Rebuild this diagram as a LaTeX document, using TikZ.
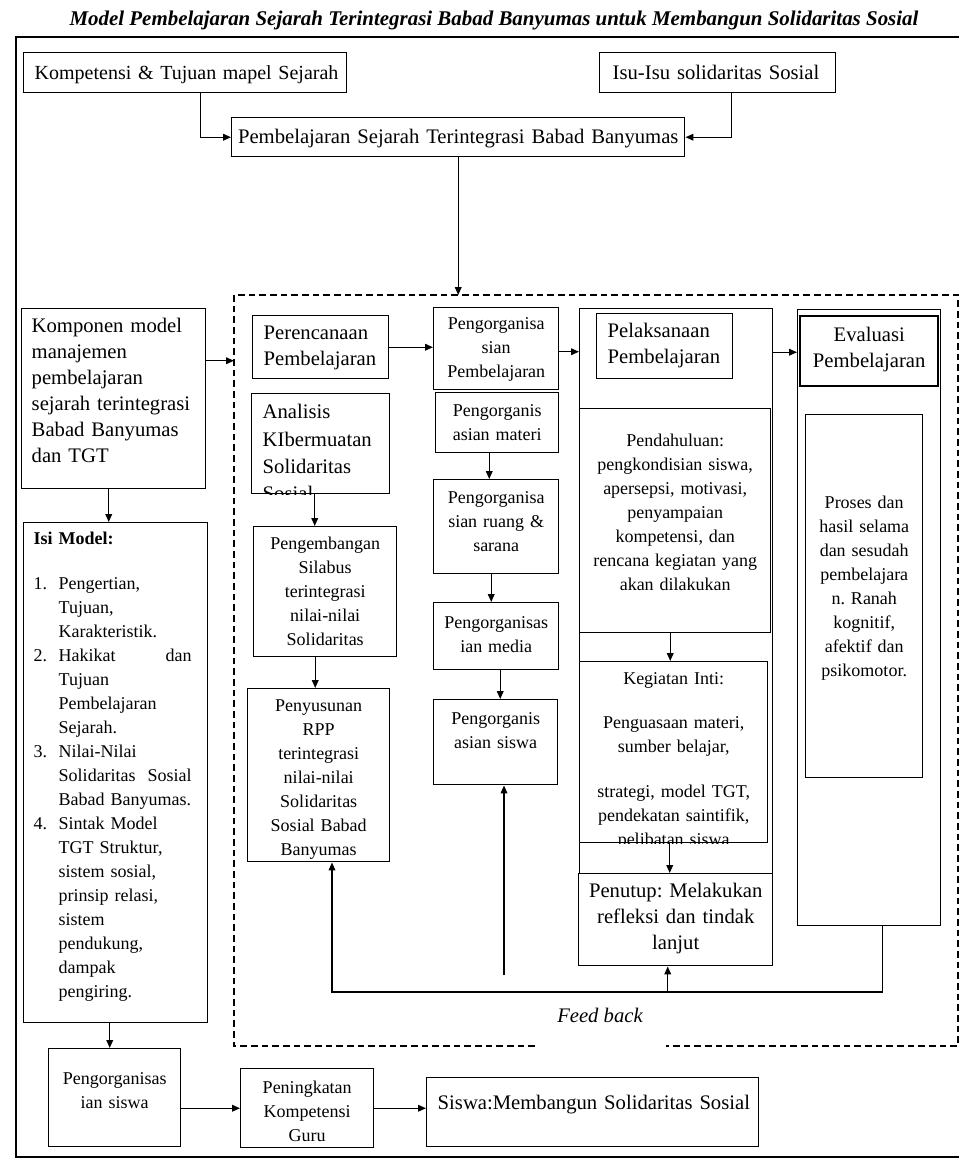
\documentclass[tikz,border=0pt]{standalone}
\usepackage{fontspec}
\setmainfont{Liberation Serif}
\usetikzlibrary{arrows.meta}
\newlength\upx
\setlength\upx{0.75pt}
\newcommand\fbig{\fontsize{15.5}{19.5}\selectfont}
\newcommand\fsmall{\fontsize{13.5}{18}\selectfont}
\hyphenpenalty=10000
\exhyphenpenalty=10000
\tikzset{
	box/.style={draw, line width=1.1pt, anchor=north west, inner ysep=0pt, font=\fsmall, align=center},
	cell/.style n args={4}{inner xsep=#1\upx, text width=#2\upx, text height=#3\upx, text depth=#4\upx},
	arr/.style={line width=1.1pt, -{Triangle[length=6pt,width=5pt]}},
	frame/.style={line width=1.1pt},
	dashframe/.style={line width=1pt, dash pattern=on 5pt off 3pt},
}
\begin{document}
\frenchspacing
\begin{tikzpicture}[x=0.75pt, y=-0.75pt]
	%%%%% START %%%%%
	\useasboundingbox (0,0) rectangle (959,1160);
	
	\node[font={\fontsize{15.7}{20}\selectfont\bfseries\itshape}] (title) at (494,20) {Model Pembelajaran Sejarah Terintegrasi Babad Banyumas untuk Membangun Solidaritas Sosial};
	\draw[frame] (959,37) -- (16,37) -- (16,1157) -- (959,1157);
	
	% top row
	\node[box, cell={11}{301}{27}{13}, font={\fontsize{15}{19.5}\selectfont}, align=left] (kompetensi) at (23,52) {\mbox{Kompetensi \& Tujuan mapel Sejarah}};
	\node[box, cell={13}{210}{27}{13}, font=\fbig, align=left] (isu) at (599,52) {Isu-Isu solidaritas Sosial};
	\node[box, cell={2}{449}{26}{13}, font=\fbig] (integrasi) at (231,117) {Pembelajaran Sejarah Terintegrasi Babad Banyumas};
	
	\draw[arr] ([xshift=15\upx]kompetensi.south) |- (integrasi.west);
	\draw[arr] ([xshift=14\upx]isu.south) |- (integrasi.east);
	
	% dashed frame
	\coordinate (dash-nw) at (234,295);
	\coordinate (dash-se) at (958,1046);
	\draw[dashframe] (535,1046) -| (dash-nw) -| (dash-se) -- (666,1046);
	\draw[arr] (integrasi.south) -- (integrasi.south |- dash-nw);
	
	% left column
	\node[box, cell={10}{164}{24}{156}, font=\fbig, align=left] (komponen) at (21,308) {Komponen model\\manajemen\\pembelajaran\\sejarah terintegrasi\\Babad Banyumas\\dan TGT};
	\node[box, cell={10}{164}{22}{478}, align=left] (isimodel) at (23,522) {{\bfseries Isi Model:}\\[21\upx]
		\makebox[25\upx][l]{1.}Pengertian,\\
		\hspace*{25\upx}Tujuan,\\
		\hspace*{25\upx}Karakteristik.\\
		\makebox[25\upx][l]{2.}\makebox[133\upx][s]{Hakikat\hfill dan}\\
		\hspace*{25\upx}Tujuan\\
		\hspace*{25\upx}Pembelajaran\\
		\hspace*{25\upx}Sejarah.\\
		\makebox[25\upx][l]{3.}Nilai-Nilai\\
		\hspace*{25\upx}\makebox[133\upx][s]{Solidaritas\hfill Sosial}\\
		\hspace*{25\upx}Babad Banyumas.\\
		\makebox[25\upx][l]{4.}Sintak Model\\
		\hspace*{25\upx}TGT Struktur,\\
		\hspace*{25\upx}sistem sosial,\\
		\hspace*{25\upx}prinsip relasi,\\
		\hspace*{25\upx}sistem\\
		\hspace*{25\upx}pendukung,\\
		\hspace*{25\upx}dampak\\
		\hspace*{25\upx}pengiring.};
	\node[box, cell={4}{124}{36}{62}] (organisasi) at (48,1048) {Pengorganisas\\ian siswa};
	\node[box, cell={4}{125}{25}{54}] (peningkatan) at (240,1068) {Peningkatan\\Kompetensi\\Guru};
	\node[box, cell={11}{310}{32}{37}, font=\fbig, align=left] (membangun) at (426,1077) {\mbox{Siswa:Membangun Solidaritas Sosial}};
	
	\draw[arr] ([yshift=38\upx]komponen.east) -- ([yshift=38\upx]komponen.east -| dash-nw);
	\draw[arr] ([xshift=-5\upx]komponen.south) -- ([xshift=-5\upx]komponen.south |- isimodel.north);
	\draw[arr] ([xshift=-6\upx]isimodel.south) -- ([xshift=-6\upx]isimodel.south |- organisasi.north);
	\draw[arr] (organisasi.east |- peningkatan.west) -- (peningkatan.west);
	\draw[arr] (peningkatan.east) -- (peningkatan.east -| membangun.west);
	
	% perencanaan
	\node[box, cell={11}{114}{24}{39}, font=\fbig, align=left] (perencanaan) at (252,315) {Perencanaan\\Pembelajaran};
	\begin{scope}
		\clip (250,392) rectangle (390,494);
		\node[box, cell={11}{116}{25}{75}, font={\fontsize{15.5}{20.5}\selectfont}, align=left] (analisis) at (251,393) {Analisis\\KIbermuatan\\Solidaritas\\Sosial};
	\end{scope}
	\node[box, cell={6}{131}{23}{107}] (silabus) at (253,526) {Pengembangan\\Silabus\\terintegrasi\\nilai-nilai\\Solidaritas};
	\node[box, cell={6}{130}{23}{150}] (rpp) at (247,688) {Penyusunan\\RPP\\terintegrasi\\nilai-nilai\\Solidaritas\\Sosial Babad\\Banyumas};
	
	\draw[arr] ([xshift=-6\upx]analisis.south) -- ([xshift=-6\upx]analisis.south |- silabus.north);
	\draw[arr] ([xshift=-10\upx]silabus.south) -- ([xshift=-10\upx]silabus.south |- rpp.north);
	
	% pengorganisasian
	\node[box, cell={4}{117}{22}{60}] (orgpemb) at (433,307) {Pengorganisa\\sian\\Pembelajaran};
	\node[box, cell={4}{115}{24}{36}] (orgmateri) at (435,392) {Pengorganis\\asian materi};
	\node[box, cell={4}{117}{24}{70}] (orgruang) at (433,479) {Pengorganisa\\sian ruang \&\\sarana};
	\node[box, cell={4}{117}{26}{41}] (orgmedia) at (433,602) {Pengorganisas\\ian media};
	\node[box, cell={4}{116}{25}{60}] (orgsiswa) at (433,699) {Pengorganis\\asian siswa};
	
	\draw[arr] (perencanaan.east) -- (perencanaan.east -| orgpemb.west);
	\draw[arr] ([xshift=-8\upx]orgmateri.south) -- ([xshift=-8\upx]orgmateri.south |- orgruang.north);
	\draw[arr] ([xshift=-5\upx]orgruang.south) -- ([xshift=-5\upx]orgruang.south |- orgmedia.north);
	\draw[arr] ([xshift=4\upx]orgmedia.south) -- ([xshift=4\upx]orgmedia.south |- orgsiswa.north);
	
	% pelaksanaan
	\node[box, minimum width=193\upx, minimum height=565\upx, inner sep=0pt] (pelaksanaanbox) at (579,308) {};
	\node[box, cell={11}{114}{24}{41}, font=\fbig, align=left] (pelaksanaan) at (596,313) {Pelaksanaan\\Pembelajaran};
	\node[box, cell={6}{179}{38}{186}] (pendahuluan) at (579,408) {Pendahuluan:\\pengkondisian siswa,\\apersepsi, motivasi,\\penyampaian\\kompetensi, dan\\rencana kegiatan yang\\akan dilakukan};
	\begin{scope}
		\clip (578,660) rectangle (768,843);
		\node[box, cell={6}{176}{23}{158}] (inti) at (579,661) {Kegiatan Inti:\\[20\upx]Penguasaan materi,\\sumber belajar,\\[21\upx]strategi, model TGT,\\pendekatan saintifik,\\pelibatan siswa};
	\end{scope}
	\node[box, cell={4}{186}{24}{68}, font=\fbig] (penutup) at (578,873) {Penutup: Melakukan\\refleksi dan tindak\\lanjut};
	
	\draw[arr] ([yshift=-3\upx]orgpemb.east) -- ([yshift=-3\upx]orgpemb.east -| pelaksanaanbox.west);
	\draw[arr] ([xshift=-5\upx]pendahuluan.south) -- ([xshift=-5\upx]pendahuluan.south |- inti.north);
	\draw[arr] ([xshift=-4\upx]inti.south) -- ([xshift=-4\upx]inti.south |- penutup.north);
	
	% evaluasi
	\node[box, minimum width=143\upx, minimum height=616\upx, inner sep=0pt] (evaluasibox) at (797,309) {};
	\node[box, cell={4}{130}{25}{45}, font=\fbig, line width=1.8pt] (evaluasi) at (799,315) {Evaluasi\\Pembelajaran};
	\node[box, cell={4}{109}{94}{269}] (proses) at (805,414) {Proses dan\\hasil selama\\dan sesudah\\pembelajara\\n. Ranah\\kognitif,\\afektif dan\\psikomotor.};
	
	\draw[arr] ([yshift=-6\upx]pelaksanaan.east -| pelaksanaanbox.east) -- ([yshift=-6\upx]pelaksanaan.east -| evaluasibox.west);
	
	% feed back
	\coordinate (fb) at (332,992);
	\coordinate (fbstub) at (504,975);
	\draw[arr] ([xshift=13\upx]evaluasibox.south) |- (fb) -- (fb |- rpp.south);
	\draw[arr] ([xshift=-8\upx]penutup.south |- fb) -- ([xshift=-8\upx]penutup.south);
	\draw[arr] (fbstub) -- (fbstub |- orgsiswa.south);
	\node[font=\fbig\itshape] (feedback) at (600,1015) {Feed back};
	
	%%%%% END %%%%%
\end{tikzpicture}
\end{document}
